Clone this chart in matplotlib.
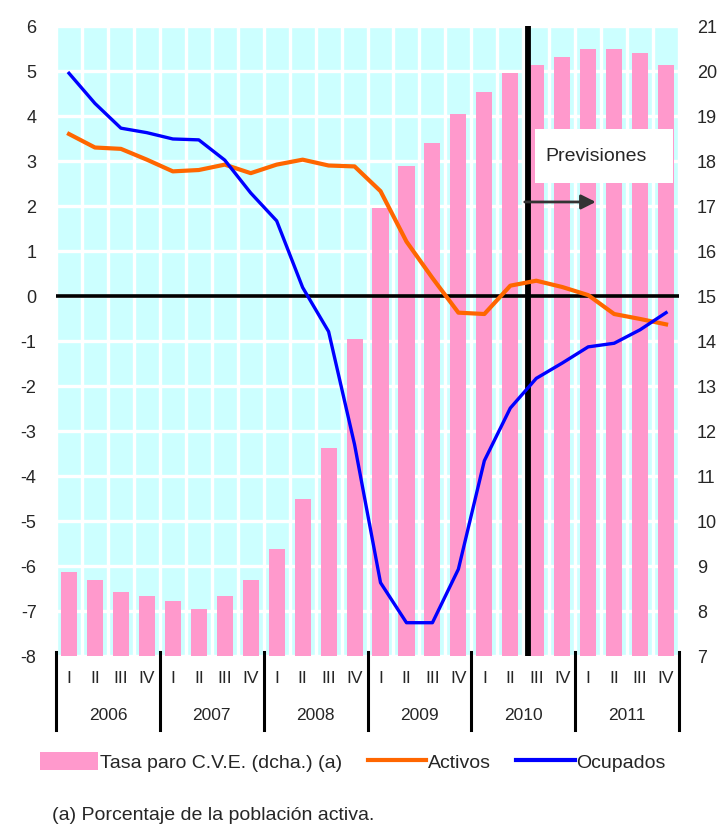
import matplotlib.pyplot as plt
import matplotlib.transforms as mtransforms
from matplotlib.patches import Patch, Rectangle
from matplotlib.lines import Line2D
import numpy as np

plt.rcParams['font.family'] = ['Liberation Sans', 'DejaVu Sans']
plt.rcParams['axes.unicode_minus'] = False

years = ['2006', '2007', '2008', '2009', '2010', '2011']
quarters = ['I', 'II', 'III', 'IV']

# Tasa de paro (eje derecho, %)
tasa_paro = [8.86, 8.70, 8.42, 8.33, 8.23, 8.05, 8.33, 8.70,
             9.38, 10.50, 11.62, 14.05, 16.95, 17.88, 18.40, 19.04,
             19.53, 19.96, 20.14, 20.31, 20.50, 20.50, 20.40, 20.14]
# variación interanual (eje izquierdo, %)
activos = [3.60, 3.30, 3.27, 3.03, 2.77, 2.80, 2.92, 2.73,
           2.92, 3.03, 2.90, 2.88, 2.33, 1.21, 0.40, -0.37,
           -0.40, 0.23, 0.34, 0.20, 0.02, -0.40, -0.51, -0.63]
ocupados = [4.95, 4.28, 3.73, 3.63, 3.49, 3.47, 3.02, 2.29,
            1.67, 0.19, -0.79, -3.30, -6.37, -7.26, -7.26, -6.07,
            -3.66, -2.49, -1.83, -1.49, -1.13, -1.05, -0.75, -0.37]

x = np.arange(len(tasa_paro))
txt = '#262626'

fig = plt.figure(figsize=(7.22, 8.26), dpi=100)
ax = fig.add_axes([0.0776, 0.2058, 0.8629, 0.7627])
ax2 = ax.twinx()
ax.set_zorder(ax2.get_zorder() + 1)
ax.patch.set_visible(False)
ax2.patch.set_visible(True)
ax2.xaxis.set_visible(True)
ax2.set_facecolor('#ccffff')

# barras y rejilla
ax2.set_axisbelow(True)
ax2.bar(x, tasa_paro, width=0.62, color='#ff99cc', zorder=2)
ax2.set_ylim(7, 21)
ax2.set_yticks(range(7, 22))
ax.set_xlim(-0.5, 23.5)
ax.set_xticks([])
ax.set_xticks(np.arange(-0.5, 24, 1), minor=True)
ax2.grid(True, which='major', axis='y', color='white', linewidth=2.4)
ax2.grid(True, which='minor', axis='x', color='white', linewidth=2.4)

# lineas
ax.plot(x, activos, color='#ff6600', lw=3, zorder=4)
ax.plot(x, ocupados, color='#0000ff', lw=2.4, zorder=5)
ax.axhline(0, color='black', lw=2.6, zorder=3)
ax.axvline(17.69, color='black', lw=4.2, zorder=3)
ax.set_ylim(-8, 6)
ax.set_yticks(range(-8, 7))

for a in (ax, ax2):
    for s in a.spines.values():
        s.set_visible(False)
    a.tick_params(which='both', length=0, colors=txt, labelsize=13)
    a.tick_params(axis='x', which='both', labelbottom=False)
ax.tick_params(axis='y', pad=14)
ax2.tick_params(axis='y', pad=13)

# Previsiones
ax.add_patch(Rectangle((17.95, 2.51), 5.32, 1.2, facecolor='white',
                       edgecolor='none', zorder=6))
ax.text(18.34, 3.11, 'Previsiones', fontsize=14, color=txt, va='center', zorder=7)
ax.annotate('', xy=(20.4, 2.09), xytext=(17.45, 2.09),
            arrowprops=dict(arrowstyle='-|>', color='#333333', lw=2,
                            mutation_scale=22), zorder=7)

# eje de categorias
tr = mtransforms.blended_transform_factory(ax.transData, ax.transAxes)
for i in x:
    ax.text(i, -0.035, quarters[i % 4], transform=tr, ha='center', va='center',
            fontsize=12.5, color=txt)
for j, yr in enumerate(years):
    ax.text(j * 4 + 1.5, -0.094, yr, transform=tr, ha='center', va='center',
            fontsize=12.5, color=txt)
for b in np.arange(-0.5, 24, 4):
    ax.add_line(Line2D([b, b], [0.006, -0.1175], transform=tr, color='black',
                       lw=2.2, clip_on=False))

handles = [Patch(facecolor='#ff99cc', edgecolor='none'),
           Line2D([], [], color='#ff6600', lw=3),
           Line2D([], [], color='#0000ff', lw=3)]
labels = ['Tasa paro C.V.E. (dcha.) (a)', 'Activos', 'Ocupados']
fig.legend(handles, labels, loc='center left', bbox_to_anchor=(40 / 722, 1 - 762 / 826),
           ncol=3, frameon=False, fontsize=14, handlelength=3.0, handleheight=1.0,
           handletextpad=0.1, columnspacing=1.3, borderaxespad=0, borderpad=0,
           labelcolor=txt)

fig.text(52 / 722, 1 - 815 / 826, '(a) Porcentaje de la población activa.',
         fontsize=14, color=txt, va='center')

fig.savefig('out.png', dpi=100)
